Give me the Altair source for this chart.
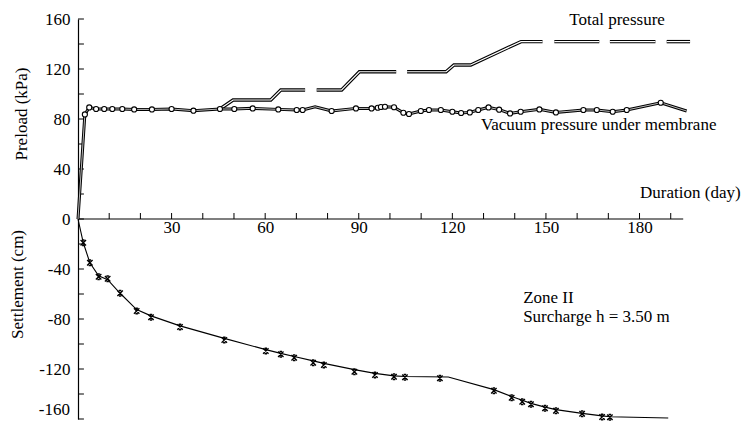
import altair as alt
import pandas as pd

FONT = "Liberation Serif"

# ---- Vacuum pressure under membrane (kPa) ----
vac_day = [0, 2.2, 3.6, 5.8, 8.4, 11.0, 14.2, 18.0, 23.7, 30.0, 37.0, 45.5, 50.1, 56.0,
           64.2, 70.1, 72.0, 76.0, 81.3, 89.1, 94.1, 96.1, 97.1, 98.4, 101.3, 104.3, 106.1,
           109.9, 112.5, 116.3, 120.0, 122.8, 125.6, 128.3, 131.6, 135.0, 138.5, 141.9,
           147.9, 153.2, 162.0, 166.3, 171.4, 175.9, 186.8, 195.1]
vac_val = [0, 83.7, 89.3, 88.0, 88.0, 88.0, 88.0, 87.7, 87.7, 88.0, 86.7, 88.0, 88.0, 88.5,
           87.7, 87.2, 87.2, 89.8, 86.4, 88.5, 88.5, 89.0, 89.6, 89.8, 89.4, 85.0, 84.0,
           86.4, 87.2, 87.2, 85.8, 84.8, 85.3, 87.2, 89.3, 87.5, 84.5, 85.8,
           87.7, 85.3, 87.2, 87.2, 85.8, 87.2, 93.0, 86.4]
# which of the points carry a circle marker (0 = line only)
vac_mark = [0, 1, 1, 1, 1, 1, 1, 1, 1, 1, 1, 1, 1, 1,
            1, 1, 1, 0, 1, 1, 1, 1, 1, 1, 1, 1, 1,
            1, 1, 1, 1, 1, 1, 1, 1, 1, 1, 1,
            1, 1, 1, 1, 1, 1, 1, 0]

# ---- Total pressure (kPa), drawn in separate pieces ----
tot_day = [45.5, 49.7, 61.8, 65.0, 72.8,
           76.5, 84.5, 90.2, 102.0,
           105.5, 118.0, 120.5, 125.9, 142.0, 148.9,
           152.7, 167.1,
           170.5, 185.1,
           188.7, 196.2]
tot_val = [88.0, 95.2, 95.2, 103.2, 103.2,
           103.2, 103.2, 117.8, 117.8,
           117.8, 117.8, 123.2, 123.2, 141.9, 141.9,
           141.9, 141.9,
           141.9, 141.9,
           141.9, 141.9]
tot_seg = [1, 1, 1, 1, 1,
           2, 2, 2, 2,
           3, 3, 3, 3, 3, 3,
           4, 4,
           5, 5,
           6, 6]

# ---- Settlement (cm) ----
set_day = [1.7, 3.8, 6.6, 9.5, 13.5, 18.8, 23.4, 32.7, 46.9,
           60.2, 65.0, 69.3, 75.4, 78.8, 88.6, 95.2, 101.3, 104.8, 116.0,
           133.3, 139.0, 142.4, 145.2, 149.7, 153.2, 161.6, 168.0, 170.5]
set_val = [-19.0, -35.0, -46.2, -47.8, -59.4, -73.6, -78.6, -86.4, -96.8,
           -105.6, -108.2, -111.0, -115.0, -116.8, -122.2, -124.8, -126.2, -126.6, -127.4,
           -137.4, -143.0, -146.2, -148.2, -151.4, -153.4, -155.8, -158.4, -158.6]
set_line_day = [0, 1.7, 3.8, 6.6, 9.5, 13.5, 18.8, 23.4, 32.7, 46.9,
                60.2, 65.0, 69.3, 75.4, 78.8, 88.6, 95.2, 101.3, 104.8, 118.7,
                133.3, 139.0, 142.4, 145.2, 149.7, 153.2, 161.6, 168.0, 170.5, 189.2]
set_line_val = [0, -19.0, -35.0, -45.5, -48.5, -59.4, -72.5, -77.5, -85.5, -95.5,
                -104.5, -107.5, -110.0, -113.5, -115.5, -120.5, -123.5, -125.5, -126.0, -126.4,
                -136.5, -142.0, -145.0, -147.5, -150.5, -152.5, -155.5, -157.5, -158.2, -159.2]

# ---- axes ----
x_labels = [30, 60, 90, 120, 150, 180]
x_minor = [10, 20, 30, 40, 50, 60, 70, 80, 90, 100, 110, 120, 130, 140, 150, 160, 170, 180, 190]
y_labels = [-120, -80, -40, 0, 40, 80, 120, 160]
y_bottom_label = ["-160"]
y_bottom_pos = [-152.8]
y_minor = [-160, -140, -120, -100, -80, -60, -40, -20, 0, 20, 40, 60, 80, 100, 120, 140, 160]
x_axis_end = 194

# ---- annotations ----
ann_text = ["Total pressure", "Vacuum pressure under membrane", "Duration (day)",
            "Zone II", "Surcharge h = 3.50 m"]
ann_day = [172.8, 166.9, 212.4, 142.7, 142.7]
ann_val = [159.6, 75.2, 20.5, -63.5, -78.6]
ann_align = ["center", "center", "right", "left", "left"]

vac = pd.DataFrame({"day": vac_day, "val": vac_val, "mark": vac_mark})
tot = pd.DataFrame({"day": tot_day, "val": tot_val, "seg": tot_seg})
setm = pd.DataFrame({"day": set_day, "val": set_val})
setl = pd.DataFrame({"day": set_line_day, "val": set_line_val})

xs = alt.Scale(domain=[0, 196.5], nice=False, zero=False)
ys = alt.Scale(domain=[-160, 160], nice=False, zero=False)

x_axis = alt.Axis(
    values=x_labels, offset=-200, domain=False, ticks=False, grid=False,
    labelPadding=0, labelFont=FONT, labelFontSize=17, labelColor="black",
    labelFlush=False, labelOverlap=False, title=None)
y_axis = alt.Axis(
    values=y_labels, domain=True, domainColor="black", domainWidth=1.2,
    ticks=False, grid=False, labelPadding=8, labelFont=FONT, labelFontSize=17,
    labelColor="black", labelOverlap=False, labelFlush=False,
    labelExpr="datum.value < 0 ? '-' + abs(datum.value) : '' + datum.value",
    title=None)


def X(f="day"):
    return alt.X(f"{f}:Q", scale=xs, axis=x_axis, title=None)


def Y(f="val"):
    return alt.Y(f"{f}:Q", scale=ys, axis=y_axis, title=None)


set_line = alt.Chart(setl).mark_line(color="black", strokeWidth=1.1).encode(x=X(), y=Y())

xmark = "M-1,-1L1,1M1,-1L-1,1M-0.45,-1L0.45,-1M-0.45,1L0.45,1"
set_pts = alt.Chart(setm).mark_point(shape=xmark, size=30, color="black",
                                     strokeWidth=1.3, filled=False, opacity=1).encode(x=X(), y=Y())

vac_outer = alt.Chart(vac).mark_line(color="black", strokeWidth=3.0).encode(x=X(), y=Y())
vac_inner = alt.Chart(vac).mark_line(color="#bbbbbb", strokeWidth=1.0).encode(x=X(), y=Y())
vac_pts = alt.Chart(vac).transform_filter("datum.mark == 1").mark_point(
    shape="circle", size=26, fill="white", stroke="black", strokeWidth=1.1,
    filled=True, opacity=1).encode(x=X(), y=Y())

tot_outer = alt.Chart(tot).mark_line(color="black", strokeWidth=3.4, strokeCap="butt").encode(
    x=X(), y=Y(), detail="seg:N")
tot_inner = alt.Chart(tot).mark_line(color="white", strokeWidth=1.2, strokeCap="butt").encode(
    x=X(), y=Y(), detail="seg:N")

# tick marks pointing inward
ytick_df = pd.DataFrame({"val": y_minor, "d0": [0] * len(y_minor), "d1": [1.9] * len(y_minor)})
yticks = alt.Chart(ytick_df).mark_rule(color="black", strokeWidth=1).encode(
    y=Y(), x=X("d0"), x2="d1:Q")
xtick_df = pd.DataFrame({"day": x_minor, "v0": [0] * len(x_minor), "v1": [4.8] * len(x_minor)})
xticks = alt.Chart(xtick_df).mark_rule(color="black", strokeWidth=1).encode(
    x=X(), y=Y("v0"), y2="v1:Q")
xdom_df = pd.DataFrame({"d0": [0], "d1": [x_axis_end], "val": [0]})
xdomain = alt.Chart(xdom_df).mark_rule(color="black", strokeWidth=1.2).encode(
    x=X("d0"), x2="d1:Q", y=Y())

# bottom y label lifted so it stays inside the picture
ybl = pd.DataFrame({"t": y_bottom_label, "val": y_bottom_pos})
ybot = alt.Chart(ybl).mark_text(font=FONT, fontSize=17, color="black", align="right",
                                baseline="middle").encode(y=Y(), x=alt.value(-8), text="t:N")

ann = pd.DataFrame({"t": ann_text, "day": ann_day, "val": ann_val, "a": ann_align})
texts = []
for al in ["center", "right", "left"]:
    texts.append(alt.Chart(ann).transform_filter(f"datum.a == '{al}'").mark_text(
        font=FONT, fontSize=17, color="black", align=al, baseline="middle").encode(
        x=X(), y=Y(), text="t:N"))

title_df = pd.DataFrame({"t": ["Preload (kPa)", "Settlement (cm)"], "val": [84, -52.4]})
t1 = alt.Chart(title_df).transform_filter("datum.val > 0").mark_text(
    font=FONT, fontSize=17, color="black", angle=270, align="center",
    baseline="middle").encode(y=Y(), x=alt.value(-56), text="t:N")
t2 = alt.Chart(title_df).transform_filter("datum.val < 0").mark_text(
    font=FONT, fontSize=17, color="black", angle=270, align="center",
    baseline="middle").encode(y=Y(), x=alt.value(-60), text="t:N")

chart = alt.layer(
    set_line, set_pts, xdomain, xticks, yticks,
    tot_outer, tot_inner, vac_outer, vac_inner, vac_pts,
    ybot, *texts, t1, t2
).properties(
    width=613, height=400,
    padding={"left": 78, "top": 19, "right": 57, "bottom": 2},
    autosize="none",
    background="white"
).configure_view(stroke=None)

chart.save("out.html", embed_options={"renderer": "svg", "actions": False})
